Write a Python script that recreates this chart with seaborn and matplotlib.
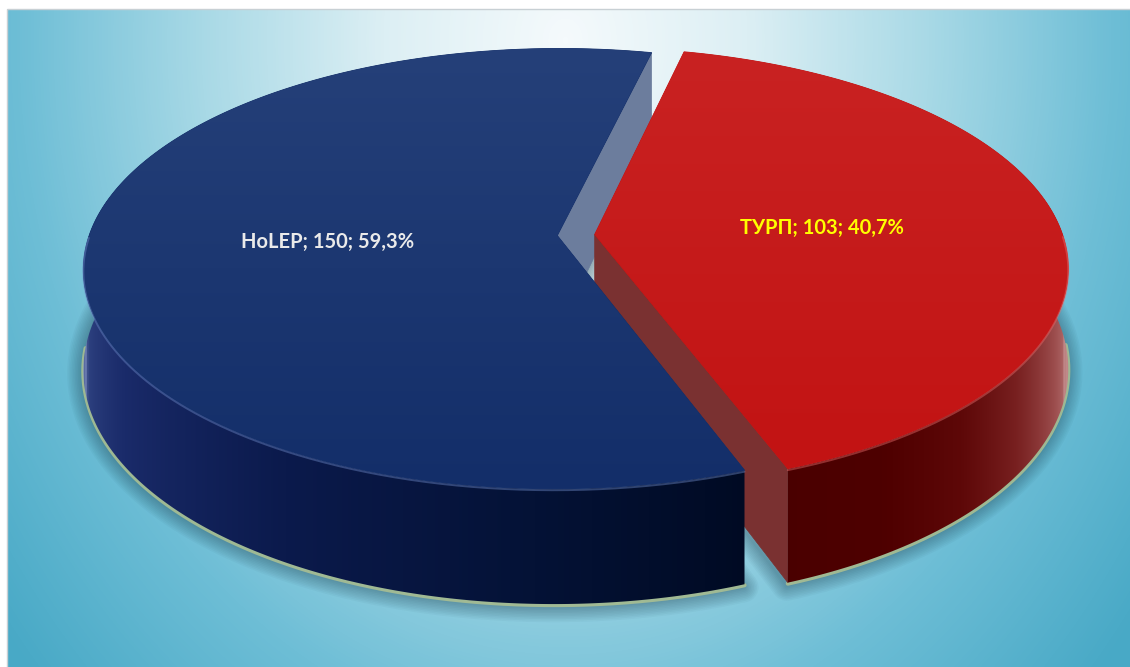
import numpy as np
import matplotlib
matplotlib.use("Agg")
import matplotlib.pyplot as plt
from matplotlib.patches import Polygon, Rectangle
from matplotlib.colors import to_rgb
import seaborn as sns

# ---------------- data ----------------
categories = ["HoLEP", "ТУРП"]
values = [150, 103]
percent_labels = ["59,3%", "40,7%"]

# ---------------- style ----------------
sns.set_theme(style="white")
plt.rcParams['font.family'] = ['Lato', 'DejaVu Sans']

label_colors = ["#EAEAEA", "#FFFF00"]
top_colors = [("#254079", "#132E69"), ("#C92222", "#C21313")]
cut_colors = ["#6C7D9D", "#7A3131"]
# rim shading stops (angle in degrees, colour)
rim_stops = [
    [(170, "#5A6BA0"), (187, "#8797C6"), (191, "#4F609A"), (198, "#2C3F7E"),
     (212, "#1A2B6A"), (240, "#0B1A4C"), (268, "#041236"), (292, "#000A22")],
    [(288, "#4A0000"), (302, "#4E0000"), (314, "#5E0808"), (325, "#782020"),
     (338, "#9E5050"), (347, "#B87878"), (352, "#C49090"), (372, "#B07070")],
]

W, H = 1130, 667
fig = plt.figure(figsize=(W / 100, H / 100), dpi=100, facecolor="white")
ax = fig.add_axes([0, 0, 1, 1])
ax.set_xlim(0, W)
ax.set_ylim(H, 0)
ax.axis("off")

# ---------------- background ----------------
x0, y0 = 7, 9
yy, xx = np.mgrid[y0:H, x0:W].astype(float)
t = np.sqrt(((xx - 565) / 560) ** 2 + ((yy - 40) / 720) ** 2)
bg_cmap = sns.blend_palette(["#F5FAFC", "#DCEFF4", "#A8D9E6", "#6EBED6", "#48A9C6"], as_cmap=True)
ax.imshow(np.clip(t / 1.3, 0, 1), cmap=bg_cmap, vmin=0, vmax=1,
          extent=[x0, W, H, y0], aspect="auto", zorder=0, interpolation="bilinear")
ax.add_patch(Rectangle((x0, y0), W - x0 + 2, H - y0 + 2, fill=False, edgecolor="#C8D0D4", lw=1, zorder=0.5))

# ---------------- 3D pie geometry ----------------
CX, CY = 576, 235
RX, RZ, KP, TH = 468, 215, 0.15, 98
EXPLODE = 0.04
START = 77.0


def proj(X, Z, Y):
    w = 1 - KP * Z
    return CX + RX * X / w, CY + (RZ * Z + TH * Y) / w


def shade(stops, ang):
    a = np.array([s[0] for s in stops], float)
    cols = np.array([to_rgb(s[1]) for s in stops])
    return np.stack([np.interp(ang, a, cols[:, j]) for j in range(3)], axis=-1)


def runs(mask):
    idx = np.flatnonzero(mask)
    if idx.size == 0:
        return []
    return np.split(idx, np.where(np.diff(idx) > 1)[0] + 1)


vals = np.array(values, float)
spans = 360 * vals / vals.sum()
starts = START + np.concatenate([[0], np.cumsum(spans)[:-1]])

slices = []
for i in range(len(values)):
    th1, th2 = starts[i], starts[i] + spans[i]
    mid = np.radians((th1 + th2) / 2)
    ox, oz = EXPLODE * np.cos(mid), -EXPLODE * np.sin(mid)
    slices.append((th1, th2, mid, ox, oz))


def rim_pt(ox, oz, ang_deg, Y):
    r = np.radians(ang_deg)
    return proj(ox + np.cos(r), oz - np.sin(r), Y)


# shadow and glow under the pie
for i, (th1, th2, mid, ox, oz) in enumerate(slices):
    ang = np.linspace(th1, th2, 300)
    bx, by = rim_pt(ox, oz, ang, 1.0)
    axp, ayp = proj(ox, oz, 1.0)
    pts = np.column_stack([np.r_[axp, bx], np.r_[ayp, by]])
    for k in range(10):
        ax.add_patch(Polygon(pts + [-1, 3], closed=True, facecolor="none",
                             edgecolor="#0A2A3A", lw=2 + 2.2 * k, alpha=0.035,
                             joinstyle="round", zorder=1))
    front = runs(np.sin(np.radians(ang)) < -0.05)
    for r in front:
        ax.plot(bx[r], by[r] + 1, color="#A8BE92", lw=3, alpha=0.9, zorder=1.5,
                solid_capstyle="round")

# visible cut faces
for i, (th1, th2, mid, ox, oz) in enumerate(slices):
    for edge, sign in ((th1, -1), (th2, 1)):
        nz = -np.sin(np.radians(edge + sign * 90))
        if nz <= 0:
            continue
        ax_, ay_ = proj(ox, oz, 0)
        bx_, by_ = proj(ox, oz, 1)
        rx0, ry0 = rim_pt(ox, oz, edge, 0)
        rx1, ry1 = rim_pt(ox, oz, edge, 1)
        ax.add_patch(Polygon([(ax_, ay_), (rx0, ry0), (rx1, ry1), (bx_, by_)],
                             closed=True, facecolor=cut_colors[i], edgecolor=cut_colors[i],
                             lw=0.5, zorder=2))

# rims and tops
for i, (th1, th2, mid, ox, oz) in enumerate(slices):
    z = 3 + 2 * i
    ang = np.linspace(th1, th2, int((th2 - th1) * 3) + 2)
    front = runs(np.sin(np.radians(ang)) <= 0.17)
    for r in front:
        a = ang[r]
        tx, ty = rim_pt(ox, oz, a, 0)
        bx, by = rim_pt(ox, oz, a, 1)
        rim_poly = Polygon(np.column_stack([np.r_[tx, bx[::-1]], np.r_[ty, by[::-1]]]),
                           closed=True, facecolor="none", edgecolor="none", zorder=z)
        ax.add_patch(rim_poly)
        am = a % 360
        if i == 1:
            am = np.where(am < 100, am + 360, am)
        # colour by screen x along the visible (front) part of the arc
        fm = np.sin(np.radians(a)) <= 0
        order = np.argsort(tx[fm])
        xs = np.linspace(tx.min() - 2, tx.max() + 2, 600)
        ang_x = np.interp(xs, tx[fm][order], am[fm][order])
        row = shade(rim_stops[i], ang_x)[None, :, :]
        ymin, ymax = min(ty.min(), by.min()) - 2, max(ty.max(), by.max()) + 2
        im = ax.imshow(row, extent=[xs[0], xs[-1], ymax, ymin], aspect="auto",
                       zorder=z, interpolation="bilinear")
        im.set_clip_path(rim_poly)

    # top face
    tx, ty = rim_pt(ox, oz, ang, 0)
    axp, ayp = proj(ox, oz, 0)
    pts = np.column_stack([np.r_[axp, tx], np.r_[ayp, ty]])
    poly = Polygon(pts, closed=True, facecolor=top_colors[i][1], edgecolor=top_colors[i][1],
                   lw=0.6, zorder=z + 1)
    ax.add_patch(poly)
    ymin, ymax = pts[:, 1].min(), pts[:, 1].max()
    xmin, xmax = pts[:, 0].min(), pts[:, 0].max()
    grad = np.linspace(0, 1, 256)[:, None]
    cm = sns.blend_palette([top_colors[i][0], top_colors[i][1]], as_cmap=True)
    im = ax.imshow(grad, cmap=cm, extent=[xmin, xmax, ymax, ymin], aspect="auto",
                   zorder=z + 1.1, interpolation="bilinear")
    im.set_clip_path(poly)

    # bevel highlight along front edge
    for r in runs(np.sin(np.radians(ang)) <= 0.0):
        a = ang[r]
        hx, hy = rim_pt(ox, oz, a, 0.0)
        hl = "#6A86C4" if i == 0 else "#E86A6A"
        ax.plot(hx, hy + 1.5, color=hl, lw=1.4, alpha=0.45, zorder=z + 1.3)

    # label
    lx, ly = proj(ox + 0.49 * np.cos(mid), oz - 0.49 * np.sin(mid), 0)
    ax.text(lx, ly, f"{categories[i]}; {values[i]}; {percent_labels[i]}",
            color=label_colors[i], fontsize=14.5, fontweight="bold",
            ha="center", va="center", zorder=20)

fig.savefig("out.png", dpi=100, facecolor="white")
